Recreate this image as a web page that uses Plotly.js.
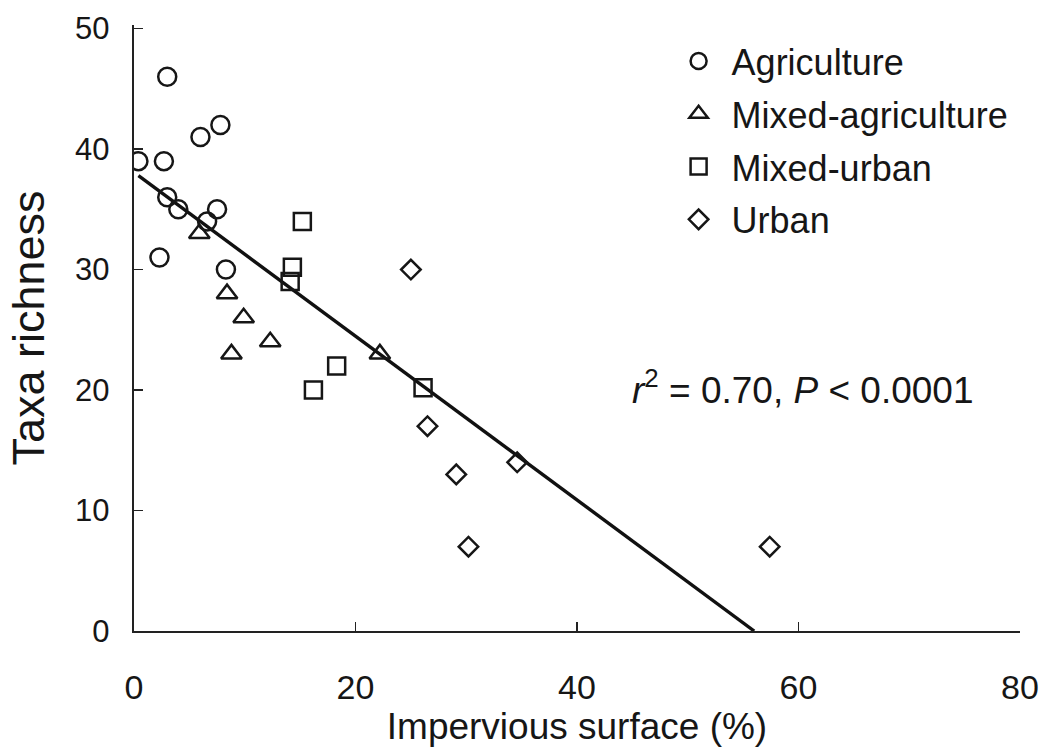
<!DOCTYPE html>
<html>
<head>
<meta charset="utf-8">
<script src="https://cdn.plot.ly/plotly-3.0.1.min.js"></script>
<style>html,body{margin:0;padding:0;background:#fff;}#chart{width:1046px;height:753px;}</style>
</head>
<body>
<div id="chart"></div>
<script>
// Data
const agricultureX = [0.4, 2.7, 3.0, 6.0, 7.8, 3.0, 4.0, 7.5, 6.6, 2.3, 8.3];
const agricultureY = [39, 39, 46, 41, 42, 36, 35, 35, 34, 31, 30];
const mixedAgX = [5.9, 8.4, 9.9, 12.3, 8.8, 22.2];
const mixedAgY = [33, 28, 26, 24, 23, 23];
const mixedUrbanX = [15.2, 14.3, 14.1, 18.3, 16.2, 26.1];
const mixedUrbanY = [34, 30.2, 29, 22, 20, 20.2];
const urbanX = [25.0, 26.5, 29.1, 34.6, 30.2, 57.4];
const urbanY = [30, 17, 13, 14, 7, 7];
const fitX = [0.4, 56.0];
const fitY = [37.8, 0];
const xTicks = [0, 20, 40, 60, 80];
const yTicks = [0, 10, 20, 30, 40, 50];

const font = 'Liberation Sans, Arial, Helvetica, sans-serif';
const ink = '#161616';
const mk = (symbol, size) => ({symbol: symbol, size: size, color: ink, line: {color: ink, width: 2.5}});

const traces = [
  {x: fitX, y: fitY, mode: 'lines', line: {color: '#111', width: 3.4}, showlegend: false, hoverinfo: 'skip'},
  {x: agricultureX, y: agricultureY, mode: 'markers', name: 'Agriculture', legendgroup: 'a', marker: mk('circle-open', 18)},
  {x: mixedAgX, y: mixedAgY, mode: 'markers', name: 'Mixed-agriculture', legendgroup: 'b', marker: mk('triangle-up-open', 18)},
  {x: mixedUrbanX, y: mixedUrbanY, mode: 'markers', name: 'Mixed-urban', legendgroup: 'c', marker: mk('square-open', 17)},
  {x: urbanX, y: urbanY, mode: 'markers', name: 'Urban', legendgroup: 'd', marker: mk('diamond-open', 15)}
];

const layout = {
  width: 1046, height: 753,
  margin: {l: 134, r: 26, t: 25, b: 122},
  paper_bgcolor: '#fff', plot_bgcolor: '#fff',
  font: {family: font, color: ink, size: 30},
  showlegend: true,
  legend: {x: 0.6, y: 0.99, xanchor: 'left', yanchor: 'top', font: {family: font, size: 36, color: ink},
           tracegroupgap: 3, itemsizing: 'trace', itemwidth: 56, bgcolor: 'rgba(0,0,0,0)'},
  xaxis: {
    range: [0, 80], tickvals: xTicks, ticktext: xTicks.map(String),
    ticks: 'inside', ticklen: 9, tickwidth: 1.5, tickcolor: '#222',
    showline: true, linecolor: '#222', linewidth: 2.4, showgrid: false, zeroline: false,
    tickfont: {family: font, size: 34, color: ink}, ticklabelstandoff: 25,
    title: {text: 'Impervious surface (%)', font: {family: font, size: 37, color: ink}, standoff: 2}
  },
  yaxis: {
    range: [0, 50.3], tickvals: yTicks, ticktext: yTicks.map(String),
    ticks: 'inside', ticklen: 9, tickwidth: 1.5, tickcolor: '#222',
    showline: true, linecolor: '#222', linewidth: 2.4, showgrid: false, zeroline: false,
    tickfont: {family: font, size: 31, color: ink}, ticklabelstandoff: 16,
    title: {text: 'Taxa richness', font: {family: font, size: 45, color: ink}, standoff: 16}
  },
  annotations: [{
    x: 0.755, y: 0.401, xref: 'paper', yref: 'paper', xanchor: 'center', yanchor: 'middle', showarrow: false,
    text: '<i>r</i><sup>2</sup> = 0.70, <i>P</i> &lt; 0.0001',
    font: {family: font, size: 37, color: ink}
  }]
};

Plotly.newPlot('chart', traces, layout, {displayModeBar: false, staticPlot: true});
</script>
</body>
</html>
